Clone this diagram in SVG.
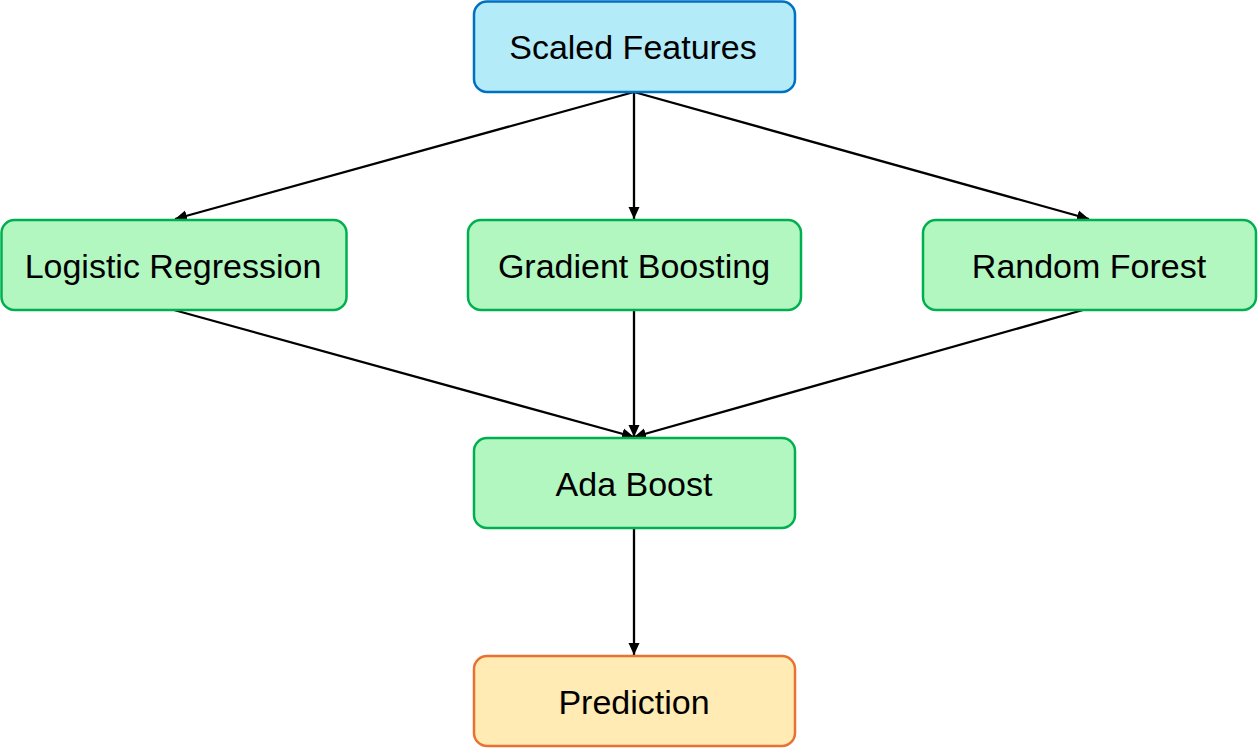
<svg xmlns="http://www.w3.org/2000/svg" width="1258" height="748" viewBox="0 0 1258 748">
<defs>
<marker id="arr" markerWidth="14" markerHeight="14" refX="12" refY="6.5" orient="auto" markerUnits="userSpaceOnUse">
<path d="M0,1 L12,6.5 L0,12 Z" fill="#000"/>
</marker>
<style>
.box{stroke-width:2.5}
.blue{fill:#B3EBF9;stroke:#0070C0}
.green{fill:#B3F7C0;stroke:#00B050}
.orange{fill:#FFEBB3;stroke:#E97132}
.lbl{font-family:"Liberation Sans",Arial,sans-serif;font-size:34px;fill:#000;text-anchor:middle;dominant-baseline:central}
.edge{stroke:#000;stroke-width:2.3;fill:none;marker-end:url(#arr)}
</style>
</defs>
<rect width="1258" height="748" fill="#fff"/>
<g id="connectors">
<line class="edge" x1="634" y1="92" x2="634" y2="219"/>
<line class="edge" x1="634" y1="92" x2="175" y2="219"/>
<line class="edge" x1="634" y1="92" x2="1089" y2="219"/>
<line class="edge" x1="174" y1="310" x2="634" y2="437"/>
<line class="edge" x1="634" y1="310" x2="634" y2="437"/>
<line class="edge" x1="1083" y1="310" x2="634" y2="437"/>
<line class="edge" x1="634" y1="528" x2="634" y2="655"/>
</g>
<g id="scaled-features">
<rect class="box blue" x="474" y="1.5" width="321" height="90.5" rx="13"/>
<text class="lbl" x="633" y="47">Scaled Features</text>
</g>
<g id="logistic-regression">
<rect class="box green" x="1.5" y="220" width="345" height="90" rx="13"/>
<text class="lbl" x="173" y="266">Logistic Regression</text>
</g>
<g id="gradient-boosting">
<rect class="box green" x="468" y="220" width="333" height="90" rx="13"/>
<text class="lbl" x="634" y="266">Gradient Boosting</text>
</g>
<g id="random-forest">
<rect class="box green" x="923" y="220" width="333" height="90" rx="13"/>
<text class="lbl" x="1089" y="266">Random Forest</text>
</g>
<g id="ada-boost">
<rect class="box green" x="474" y="438" width="321" height="90" rx="13"/>
<text class="lbl" x="634" y="484">Ada Boost</text>
</g>
<g id="prediction">
<rect class="box orange" x="474" y="656" width="321" height="90" rx="13"/>
<text class="lbl" x="634" y="702">Prediction</text>
</g>
</svg>
